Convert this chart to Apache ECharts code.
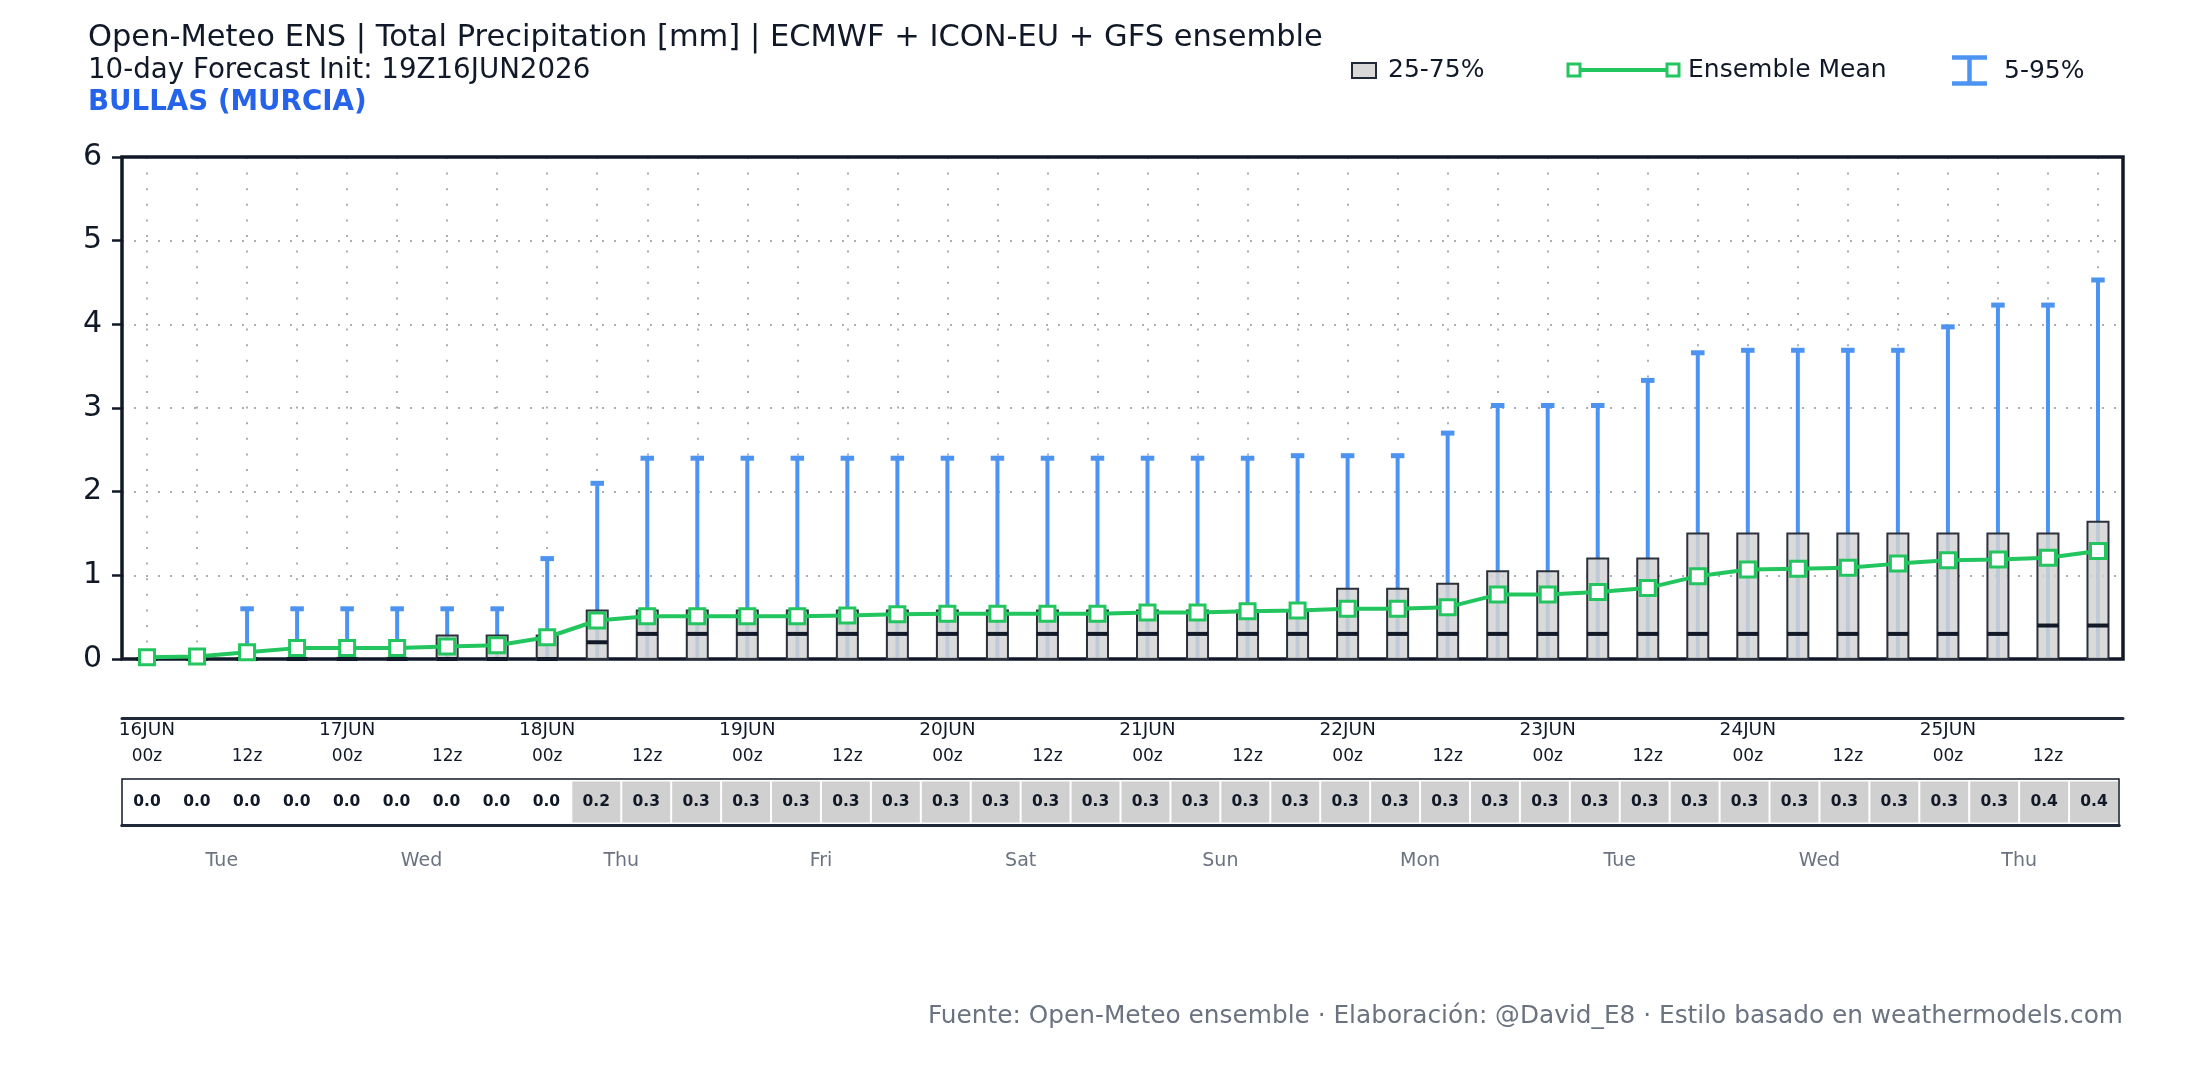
<!DOCTYPE html>
<html>
<head>
<meta charset="utf-8">
<script src="https://cdn.jsdelivr.net/npm/echarts@6/dist/echarts.min.js"></script>
<style>
    html, body { margin: 0; padding: 0; background: #fff; }
    #chart { width: 2200px; height: 1080px; }
</style>
</head>
<body>
<div id="chart"></div>
<script>
    // 6-hourly steps, 16JUN 00z -> 25JUN 18z
    var days = ['16JUN', '17JUN', '18JUN', '19JUN', '20JUN', '21JUN', '22JUN', '23JUN', '24JUN', '25JUN'];
    var weekdays = ['Tue', 'Wed', 'Thu', 'Fri', 'Sat', 'Sun', 'Mon', 'Tue', 'Wed', 'Thu'];
    var hours = ['00z', '06z', '12z', '18z'];

    // accumulated precipitation percentiles (mm)
    var p05 = [0, 0, 0, 0, 0, 0, 0, 0, 0, 0,
        0, 0, 0, 0, 0, 0, 0, 0, 0, 0,
        0, 0, 0, 0, 0, 0, 0, 0, 0, 0,
        0, 0, 0, 0, 0, 0, 0, 0, 0, 0]
    var p25 = [0, 0, 0, 0, 0, 0, 0, 0, 0, 0,
        0, 0, 0, 0, 0, 0, 0, 0, 0, 0,
        0, 0, 0, 0, 0, 0, 0, 0, 0, 0,
        0, 0, 0, 0, 0, 0, 0, 0, 0, 0]
    var median = [0, 0, 0, 0, 0, 0, 0, 0, 0, 0.2,
        0.3, 0.3, 0.3, 0.3, 0.3, 0.3, 0.3, 0.3, 0.3, 0.3,
        0.3, 0.3, 0.3, 0.3, 0.3, 0.3, 0.3, 0.3, 0.3, 0.3,
        0.3, 0.3, 0.3, 0.3, 0.3, 0.3, 0.3, 0.3, 0.4, 0.4]
    var p75 = [0, 0, 0, 0, 0, 0, 0.28, 0.28, 0.28, 0.58,
        0.58, 0.58, 0.58, 0.58, 0.58, 0.58, 0.58, 0.58, 0.58, 0.58,
        0.58, 0.58, 0.58, 0.58, 0.84, 0.84, 0.9, 1.05, 1.05, 1.2,
        1.2, 1.5, 1.5, 1.5, 1.5, 1.5, 1.5, 1.5, 1.5, 1.64]
    var p95 = [0, 0, 0.6, 0.6, 0.6, 0.6, 0.6, 0.6, 1.2, 2.1,
        2.4, 2.4, 2.4, 2.4, 2.4, 2.4, 2.4, 2.4, 2.4, 2.4,
        2.4, 2.4, 2.4, 2.43, 2.43, 2.43, 2.7, 3.03, 3.03, 3.03,
        3.33, 3.66, 3.69, 3.69, 3.69, 3.69, 3.97, 4.23, 4.23, 4.53]
    var mean = [0.02, 0.03, 0.08, 0.13, 0.13, 0.13, 0.15, 0.165, 0.26, 0.46,
        0.51, 0.51, 0.51, 0.51, 0.52, 0.535, 0.54, 0.54, 0.54, 0.54,
        0.555, 0.555, 0.57, 0.58, 0.6, 0.6, 0.62, 0.77, 0.77, 0.8,
        0.85, 0.99, 1.07, 1.08, 1.09, 1.14, 1.18, 1.19, 1.21, 1.29]

    var FONT = 'DejaVu Sans'
    var INK = '#111827'
    var GREEN = '#22c55e'
    var BLUE = '#4d94f2'
    var DOTS = '#a9aeb6'

    var steps = []
    days.forEach(function (d) {
        hours.forEach(function (h) { steps.push(d + ' ' + h) })
    })

    function renderWhisker(params, api) {
        var i = api.value(0)
        var lo = api.coord([i, api.value(1)])
        var hi = api.coord([i, api.value(2)])
        if (lo[1] - hi[1] < 1) return null
        var cap = api.size([1, 0])[0] * 0.27
        return {
            type: 'group',
            children: [
                {type: 'line', shape: {x1: lo[0], y1: lo[1], x2: hi[0], y2: hi[1]}, style: {stroke: BLUE, lineWidth: 4}},
                {type: 'line', shape: {x1: hi[0] - cap / 2, y1: hi[1], x2: hi[0] + cap / 2, y2: hi[1]}, style: {stroke: BLUE, lineWidth: 5}}
            ]
        }
    }

    function renderBox(params, api) {
        var i = api.value(0)
        var lo = api.coord([i, api.value(1)])
        var hi = api.coord([i, api.value(2)])
        var md = api.coord([i, api.value(3)])
        var w = api.size([1, 0])[0] * 0.42
        return {
            type: 'group',
            children: [
                {type: 'rect', shape: {x: lo[0] - w / 2, y: hi[1], width: w, height: lo[1] - hi[1]},
                    style: {fill: 'rgba(211,211,211,0.85)', stroke: '#2b303b', lineWidth: 2}},
                {type: 'line', shape: {x1: lo[0] - w / 2, y1: md[1], x2: lo[0] + w / 2, y2: md[1]},
                    style: {stroke: INK, lineWidth: 4}}
            ]
        }
    }

    function renderCell(params, api) {
        var i = api.value(0)
        var v = api.value(1)
        var c = api.coord([i, 0.5])
        var w = api.size([1, 0])[0]
        var h = api.size([0, 1])[1]
        var kids = []
        if (v > 0) {
            kids.push({type: 'rect', shape: {x: c[0] - w / 2 + 1, y: c[1] - h / 2 + 2.5, width: w - 2, height: h - 5},
                style: {fill: '#d0d0d0'}})
        }
        kids.push({type: 'text', x: c[0], y: c[1],
            style: {text: v.toFixed(1), fontSize: 15.5, fontWeight: 'bold', fontFamily: FONT, fill: INK,
                align: 'center', verticalAlign: 'middle'}})
        return {type: 'group', children: kids}
    }

    function legendText(x, y, t) {
        return {type: 'text', x: x, y: y,
            style: {text: t, fontSize: 25, fontFamily: FONT, fill: INK, align: 'left', verticalAlign: 'middle'}}
    }

    var option = {
        animation: false,
        backgroundColor: '#fff',
        textStyle: {fontFamily: FONT},
        title: [
            {text: 'Open-Meteo ENS | Total Precipitation [mm] | ECMWF + ICON-EU + GFS ensemble', left: 88, top: 23, padding: 0,
                textStyle: {fontSize: 30.5, fontWeight: 'normal', color: INK, fontFamily: FONT}},
            {text: '10-day Forecast Init: 19Z16JUN2026', left: 88, top: 57, padding: 0,
                textStyle: {fontSize: 27.7, fontWeight: 'normal', color: INK, fontFamily: FONT}},
            {text: 'BULLAS (MURCIA)', left: 88, top: 89, padding: 0,
                textStyle: {fontSize: 27.7, fontWeight: 'bold', color: '#2563eb', fontFamily: FONT}},
            {text: 'Fuente: Open-Meteo ensemble · Elaboración: @David_E8 · Estilo basado en weathermodels.com', right: 77, top: 1004, padding: 0,
                textStyle: {fontSize: 24.8, fontWeight: 'normal', color: '#6b7280', fontFamily: FONT}}
        ],
        grid: [
            {left: 122, top: 157, width: 2001, height: 502, show: true, borderColor: INK, borderWidth: 3.5, outerBoundsMode: 'none', z: 3},
            {left: 147, top: 157, width: 1951, height: 502, outerBoundsMode: 'none'},
            {left: 122, top: 717, width: 2001, height: 1, outerBoundsMode: 'none'},
            {left: 122, top: 779, width: 1997, height: 46, show: true, borderColor: INK, borderWidth: 1.5, outerBoundsMode: 'none'}
        ],
        xAxis: [
            {type: 'category', gridIndex: 0, data: steps, axisLine: {show: false}, axisTick: {show: false},
                axisLabel: {show: false}, splitLine: {show: false}},
            {type: 'value', gridIndex: 1, min: 0, max: 39, interval: 1, axisLine: {show: false}, axisTick: {show: false},
                axisLabel: {show: false}, splitLine: {show: true, lineStyle: {color: DOTS, width: 2, type: [2, 13.6]}}},
            {type: 'category', gridIndex: 2, position: 'bottom', data: steps,
                axisLine: {show: true, lineStyle: {color: '#1f2937', width: 3}}, axisTick: {show: false},
                axisLabel: {interval: 3, margin: 3, fontSize: 18.5, color: INK,
                    formatter: function (v, i) { return days[Math.floor(i / 4)] }}},
            {type: 'category', gridIndex: 2, position: 'bottom', data: steps,
                axisLine: {show: false}, axisTick: {show: false},
                axisLabel: {interval: 1, margin: 30, fontSize: 17, color: INK,
                    formatter: function (v, i) { return hours[i % 4] }}},
            {type: 'category', gridIndex: 3, position: 'top', data: steps,
                axisLine: {show: true, lineStyle: {color: '#1f2937', width: 3}}, axisTick: {show: false}, axisLabel: {show: false}},
            {type: 'category', gridIndex: 3, position: 'bottom', data: days,
                axisLine: {show: true, lineStyle: {color: '#1f2937', width: 3}}, axisTick: {show: false},
                axisLabel: {margin: 27, fontSize: 19, color: '#6b7280',
                    formatter: function (v, i) { return weekdays[i] }}}
        ],
        yAxis: [
            {type: 'value', gridIndex: 0, min: 0, max: 6, interval: 1,
                axisLine: {show: false},
                axisTick: {show: true, length: 10, lineStyle: {color: INK, width: 2.5}},
                axisLabel: {fontSize: 30, color: INK, margin: 20},
                splitLine: {show: true, showMinLine: false, showMaxLine: false,
                    lineStyle: {color: DOTS, width: 2, type: [2, 10]}}},
            {type: 'value', gridIndex: 1, min: 0, max: 6, show: false},
            {type: 'value', gridIndex: 2, min: 0, max: 1, show: false},
            {type: 'value', gridIndex: 3, min: 0, max: 1, show: false}
        ],
        series: [
            {
                name: '5-95%', type: 'custom', xAxisIndex: 0, yAxisIndex: 0, z: 2,
                renderItem: renderWhisker,
                encode: {x: 0, y: [1, 2]},
                data: steps.map(function (s, i) { return [i, p05[i], p95[i]] })
            },
            {
                name: '25-75%', type: 'custom', xAxisIndex: 0, yAxisIndex: 0, z: 3,
                renderItem: renderBox,
                encode: {x: 0, y: [1, 2, 3]},
                data: steps.map(function (s, i) { return [i, p25[i], p75[i], median[i]] })
            },
            {
                name: 'Ensemble Mean', type: 'line', xAxisIndex: 0, yAxisIndex: 0, z: 5,
                data: mean, showAllSymbol: true,
                symbol: 'rect', symbolSize: 15,
                lineStyle: {color: GREEN, width: 4},
                itemStyle: {color: '#fff', borderColor: GREEN, borderWidth: 3}
            },
            {
                name: 'median table', type: 'custom', xAxisIndex: 4, yAxisIndex: 3, z: 2,
                renderItem: renderCell,
                encode: {x: 0, y: 1},
                data: steps.map(function (s, i) { return [i, median[i]] })
            }
        ],
        graphic: [
            {type: 'rect', shape: {x: 1352, y: 63, width: 24, height: 15}, style: {fill: '#d9d9d9', stroke: '#1f2937', lineWidth: 2}},
            legendText(1388, 70, '25-75%'),
            {type: 'line', shape: {x1: 1574, y1: 70, x2: 1673, y2: 70}, style: {stroke: GREEN, lineWidth: 4}},
            {type: 'rect', shape: {x: 1568, y: 64, width: 12, height: 12}, style: {fill: '#fff', stroke: GREEN, lineWidth: 3}},
            {type: 'rect', shape: {x: 1667, y: 64, width: 12, height: 12}, style: {fill: '#fff', stroke: GREEN, lineWidth: 3}},
            legendText(1688, 70, 'Ensemble Mean'),
            {type: 'line', shape: {x1: 1969.5, y1: 57, x2: 1969.5, y2: 84}, style: {stroke: BLUE, lineWidth: 4.5}},
            {type: 'line', shape: {x1: 1952, y1: 57.5, x2: 1987, y2: 57.5}, style: {stroke: BLUE, lineWidth: 4.5}},
            {type: 'line', shape: {x1: 1952, y1: 83.5, x2: 1987, y2: 83.5}, style: {stroke: BLUE, lineWidth: 4.5}},
            legendText(2004, 71, '5-95%')
        ]
    }

    var chart = echarts.init(document.getElementById('chart'))
    chart.setOption(option)
    window.addEventListener('resize', function () { chart.resize() })
</script>
</body>
</html>
